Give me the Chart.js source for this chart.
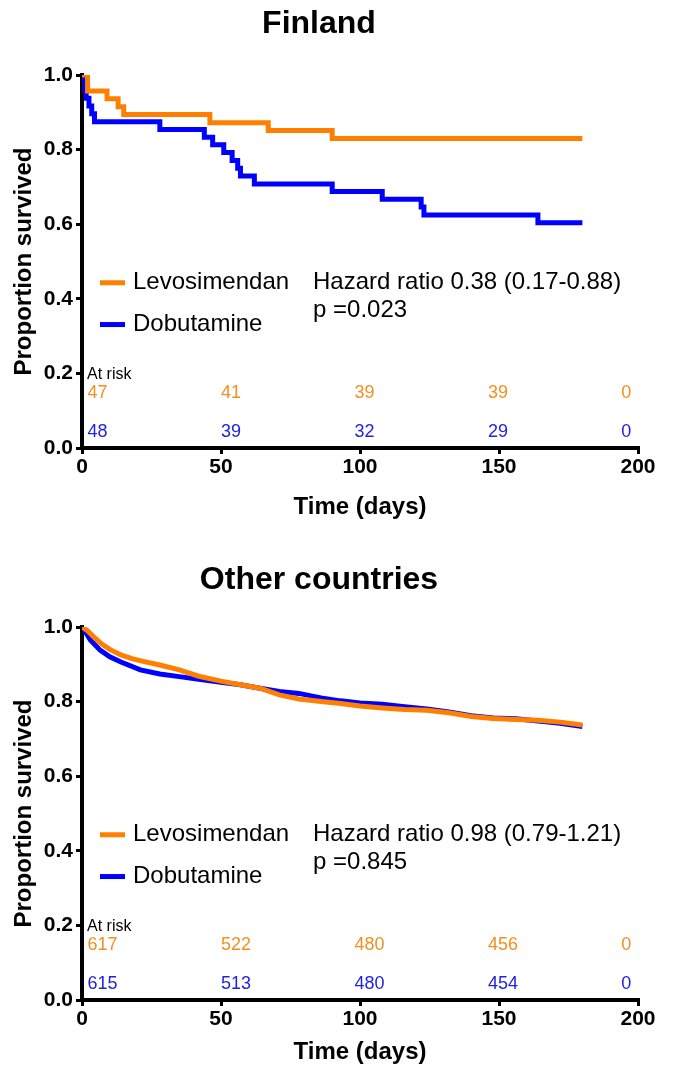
<!DOCTYPE html>
<html lang="en">
<head>
<meta charset="UTF-8">
<title>Survival: Finland and other countries</title>
<script src="https://cdn.jsdelivr.net/npm/chart.js"></script>
<style>
  body { margin: 0; background: #fff; }
  canvas { display: block; }
</style>
</head>
<body>
<canvas id="finlandChart" width="676" height="545"></canvas>
<canvas id="otherChart" width="676" height="522"></canvas>
<script>
// Kaplan-Meier curves: day of event -> proportion surviving
const finLevoDays = [0, 2, 9, 13, 15, 46, 67, 90, 180];
const finLevoSurv = [1, 0.957, 0.936, 0.915, 0.894, 0.872, 0.851, 0.830, 0.830];
const finDobuDays = [0, 0.5, 1, 1.5, 2.5, 3.5, 4.5, 28, 44, 47, 51, 54, 56, 57, 62, 90, 108, 122, 123, 164, 180];
const finDobuSurv = [1, 0.979, 0.958, 0.938, 0.917, 0.896, 0.875, 0.854, 0.833, 0.813, 0.792, 0.771, 0.750, 0.729, 0.708, 0.688, 0.667, 0.646, 0.625, 0.604, 0.604];

const otherLevoDays = [0, 2, 4, 7, 10, 14, 18, 22, 28, 35, 42, 50, 57, 64, 71, 78, 86, 93, 100, 108, 116, 124, 132, 140, 148, 156, 164, 172, 180];
const otherLevoSurv = [1, 0.99, 0.975, 0.955, 0.940, 0.925, 0.915, 0.908, 0.898, 0.885, 0.868, 0.855, 0.845, 0.836, 0.818, 0.807, 0.800, 0.795, 0.788, 0.783, 0.779, 0.777, 0.770, 0.760, 0.755, 0.752, 0.750, 0.745, 0.737];
const otherDobuDays = [0, 1, 3, 6.5, 10, 14, 21, 28, 35, 42, 50, 57, 64, 71, 78, 86, 93, 100, 108, 116, 124, 132, 140, 148, 156, 164, 172, 180];
const otherDobuSurv = [1, 0.99, 0.965, 0.938, 0.920, 0.906, 0.885, 0.874, 0.867, 0.860, 0.852, 0.845, 0.836, 0.827, 0.822, 0.810, 0.802, 0.796, 0.793, 0.786, 0.780, 0.772, 0.762, 0.756, 0.754, 0.748, 0.742, 0.733];

// numbers at risk
const riskTimes = [0, 50, 100, 150, 200];
const finRiskLevo = [47, 41, 39, 39, 0];
const finRiskDobu = [48, 39, 32, 29, 0];
const otherRiskLevo = [617, 522, 480, 456, 0];
const otherRiskDobu = [615, 513, 480, 454, 0];

const seriesNames = ['Levosimendan', 'Dobutamine'];
const finStats = ['Hazard ratio 0.38 (0.17-0.88)', 'p =0.023'];
const otherStats = ['Hazard ratio 0.98 (0.79-1.21)', 'p =0.845'];

const ORANGE = '#ff8000';
const BLUE = '#0000ff';
const ORANGE_TXT = '#f39020';
const BLUE_TXT = '#2222e0';
const FONT = "'Liberation Sans', Arial, Helvetica, sans-serif";

function toPoints(days, surv) {
    return days.map((d, i) => ({ x: d, y: surv[i] }));
}

// legend, hazard ratio and the at-risk table drawn inside the plot
const annotations = {
    id: 'annotations',
    afterDatasetsDraw(chart, args, opts) {
        const { ctx, chartArea, scales: { x, y } } = chart;
        const left = chartArea.left;
        ctx.save();
        ctx.textBaseline = 'middle';

        // legend
        const rows = [[ORANGE, y.getPixelForValue(0.443)], [BLUE, y.getPixelForValue(0.331)]];
        rows.forEach(([col, py], i) => {
            ctx.strokeStyle = col;
            ctx.lineWidth = 5;
            ctx.beginPath();
            ctx.moveTo(left + 18, py);
            ctx.lineTo(left + 43, py);
            ctx.stroke();
            ctx.fillStyle = '#000';
            ctx.font = '24px ' + FONT;
            ctx.textAlign = 'left';
            ctx.fillText(seriesNames[i], left + 51, py);
        });
        ctx.fillText(opts.stats[0], left + 231, y.getPixelForValue(0.443));
        ctx.fillText(opts.stats[1], left + 231, y.getPixelForValue(0.368));

        // at risk
        ctx.font = '16px ' + FONT;
        ctx.fillText('At risk', left + 5, y.getPixelForValue(0.198));
        ctx.font = '18px ' + FONT;
        riskTimes.forEach((t, i) => {
            const px = x.getPixelForValue(2 + t * 0.96);
            ctx.fillStyle = ORANGE_TXT;
            ctx.fillText(String(opts.riskLevo[i]), px, y.getPixelForValue(0.147));
            ctx.fillStyle = BLUE_TXT;
            ctx.fillText(String(opts.riskDobu[i]), px, y.getPixelForValue(0.042));
        });
        ctx.restore();
    }
};

function makeChart(id, title, levo, dobu, stats, riskLevo, riskDobu, lay) {
    new Chart(document.getElementById(id), {
        type: 'line',
        data: {
            datasets: [
                { label: seriesNames[0], data: levo, borderColor: ORANGE, borderWidth: 5, pointRadius: 0, stepped: lay.stepped, fill: false },
                { label: seriesNames[1], data: dobu, borderColor: BLUE, borderWidth: 5, pointRadius: 0, stepped: lay.stepped, fill: false }
            ]
        },
        options: {
            responsive: false,
            animation: false,
            layout: { padding: { left: 0, right: 38, top: 0, bottom: 0 } },
            plugins: {
                legend: { display: false },
                tooltip: { enabled: false },
                title: {
                    display: true,
                    text: title,
                    color: '#000',
                    font: { family: FONT, size: 32, weight: 'bold' },
                    padding: { top: lay.titleTop, bottom: lay.titleBottom }
                },
                annotations: { stats: stats, riskLevo: riskLevo, riskDobu: riskDobu }
            },
            scales: {
                x: {
                    type: 'linear',
                    min: 0,
                    max: 200,
                    ticks: { stepSize: 50, color: '#000', padding: 1, maxRotation: 0,
                             font: { family: FONT, size: 21, weight: 'bold' } },
                    grid: { drawOnChartArea: false, drawTicks: true, tickLength: 6, color: '#000', lineWidth: 3 },
                    border: { display: true, color: '#000', width: 4 },
                    title: { display: true, text: 'Time (days)', color: '#000',
                             font: { family: FONT, size: 24, weight: 'bold' },
                             padding: { top: 0, bottom: lay.xTitleBottom } },
                    afterFit(scale) {
                        scale.height = lay.xHeight;
                        scale.paddingLeft = 0;
                        scale.paddingRight = 0;
                    }
                },
                y: {
                    min: 0,
                    max: 1,
                    ticks: { stepSize: 0.2, color: '#000', padding: 3,
                             font: { family: FONT, size: 21, weight: 'bold' },
                             callback: v => v.toFixed(1) },
                    grid: { drawOnChartArea: false, drawTicks: true, tickLength: 6, color: '#000', lineWidth: 3 },
                    border: { display: true, color: '#000', width: 4 },
                    title: { display: true, text: 'Proportion survived', color: '#000',
                             font: { family: FONT, size: 24, weight: 'bold' },
                             padding: { top: 10, bottom: 0 } },
                    afterFit(scale) {
                        scale.width = 82;
                        scale.paddingTop = 0;
                        scale.paddingBottom = 0;
                    }
                }
            }
        },
        plugins: [annotations]
    });
}

makeChart('finlandChart', 'Finland',
    toPoints(finLevoDays, finLevoSurv), toPoints(finDobuDays, finDobuSurv),
    finStats, finRiskLevo, finRiskDobu,
    { stepped: true, titleTop: 5, titleBottom: 31.6, xHeight: 97, xTitleBottom: 23 });

makeChart('otherChart', 'Other countries',
    toPoints(otherLevoDays, otherLevoSurv), toPoints(otherDobuDays, otherDobuSurv),
    otherStats, otherRiskLevo, otherRiskDobu,
    { stepped: false, titleTop: 16, titleBottom: 27.6, xHeight: 67, xTitleBottom: 0 });
</script>
</body>
</html>
